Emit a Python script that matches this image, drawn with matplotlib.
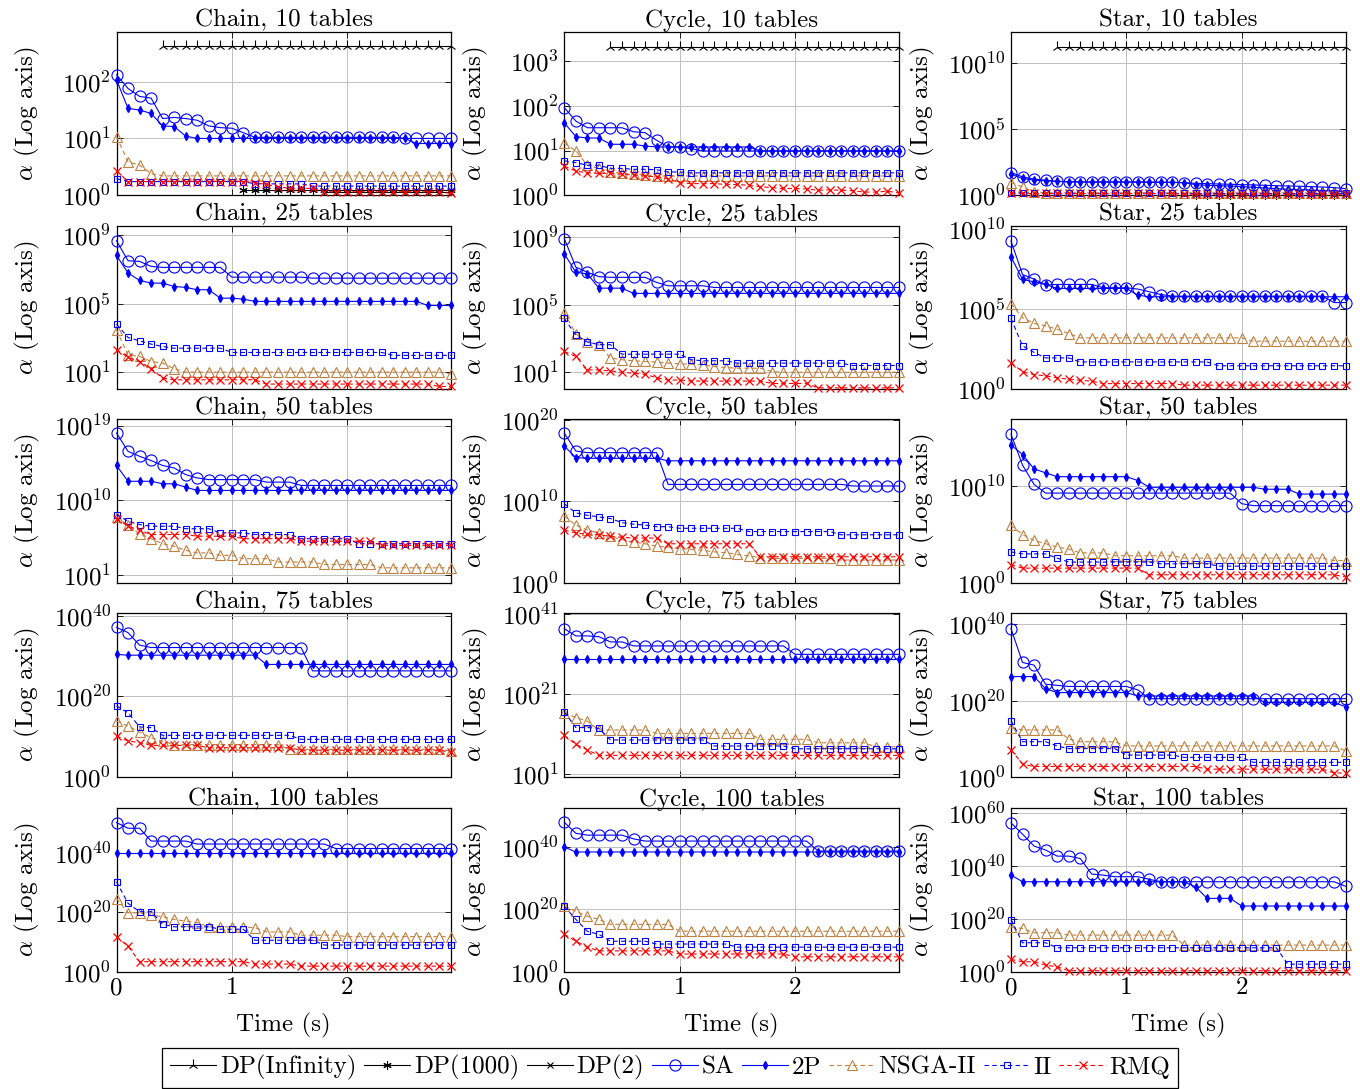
import numpy as np
import matplotlib
matplotlib.use("Agg")
import matplotlib.pyplot as plt
from matplotlib.lines import Line2D

plt.rcParams['font.family'] = 'cmr10'
plt.rcParams['mathtext.fontset'] = 'cm'
plt.rcParams['axes.formatter.use_mathtext'] = True
plt.rcParams['axes.unicode_minus'] = False

nan = np.nan
time = [0.0, 0.1, 0.2, 0.3, 0.4, 0.5, 0.6, 0.7, 0.8, 0.9,
        1.0, 1.1, 1.2, 1.3, 1.4, 1.5, 1.6, 1.7, 1.8, 1.9,
        2.0, 2.1, 2.2, 2.3, 2.4, 2.5, 2.6, 2.7, 2.8, 2.9]

# all values are log10(alpha)
# ---- Chain, 10 tables
chain10_dpinf = [nan]*4 + [2.62]*26
chain10_dp1000 = [nan]*11 + [0.10]*19
chain10_dp2 = [nan]*18 + [0.05]*12
chain10_sa = [2.12, 1.88, 1.74, 1.71, 1.35, 1.37, 1.35, 1.32, 1.22, 1.19, 1.18, 1.10] + [1.02]*13 + [1.0]*5
chain10_2p = [2.03, 1.53, 1.50, 1.44, 1.22, 1.21, 1.04] + [1.0]*19 + [0.91]*4
chain10_nsga = [1.03, 0.59, 0.53, 0.38] + [0.34]*26
chain10_ii = [0.29] + [0.24]*11 + [0.20]*5 + [0.16]*13
chain10_rmq = [0.43] + [0.24]*11 + [0.22, 0.19, 0.15, 0.12, 0.12, 0.12] + [0.06]*11 + [0.03]

# ---- Cycle, 10 tables
cycle10_dpinf = [nan]*4 + [3.32]*26
cycle10_sa = [1.96, 1.66, 1.51, 1.51, 1.51, 1.51, 1.42, 1.40, 1.23, 1.08, 1.08, 1.04] + [0.99]*18
cycle10_2p = [1.62, 1.31, 1.28, 1.28, 1.14, 1.14, 1.14, 1.10] + [1.08]*9 + [0.99]*13
cycle10_nsga = [1.17, 0.99, 0.67, 0.60, 0.52, 0.49, 0.48, 0.46] + [0.43]*22
cycle10_ii = [0.77, 0.73, 0.67, 0.67, 0.60, 0.60, 0.58, 0.58, 0.57, 0.52, 0.52] + [0.50]*19
cycle10_rmq = [0.65, 0.54, 0.50, 0.49, 0.49, 0.47, 0.45, 0.43, 0.41, 0.37,
               0.28, 0.26, 0.26, 0.26, 0.24, 0.24, 0.22, 0.19, 0.17, 0.15,
               0.15, 0.14, 0.11, 0.12, 0.11, 0.10, 0.07, 0.07, 0.09, 0.05]

# ---- Star, 10 tables
star10_dpinf = [nan]*4 + [11.27]*26
star10_dp1000 = [nan]*16 + [0.05]*14
star10_sa = [1.72, 1.39, 1.22, 1.14, 1.05, 1.03, 1.01, 1.0, 1.0, 1.0, 1.0, 1.0,
             0.98, 0.98, 0.97, 0.95, 0.9, 0.88, 0.85, 0.83, 0.8, 0.78, 0.75, 0.72,
             0.7, 0.68, 0.65, 0.62, 0.58, 0.5]
star10_2p = [1.6, 1.27, 1.14, 1.09, 1.05, 1.0, 1.0, 1.0, 1.0, 1.0, 1.0, 1.0, 1.0,
             0.98, 0.98, 0.95, 0.8, 0.75, 0.72, 0.7, 0.65, 0.6, 0.55, 0.5, 0.45,
             0.42, 0.4, 0.35, 0.32, 0.28]
star10_nsga = [0.96, 0.63, 0.25] + [0.18]*27
star10_ii = [0.18] + [0.13]*29
star10_rmq = [0.13]*15 + [0.08]*15

# ---- Chain, 25 tables
chain25_sa = [8.69, 7.52, 7.48, 7.19] + [7.13]*6 + [6.56]*7 + [6.50]*13
chain25_2p = [7.83, 6.80, 6.37, 6.21, 6.21, 6.01, 5.96, 5.82, 5.82, 5.33, 5.33, 5.27] + [5.14]*15 + [4.90]*3
chain25_nsga = [3.48, 2.01, 1.92, 1.62, 1.53, 1.20] + [1.0]*23 + [0.9]
chain25_ii = [3.81, 3.03, 2.83, 2.64, 2.50] + [2.40]*5 + [2.15]*14 + [1.98]*6
chain25_rmq = [2.31, 1.86, 1.62, 1.20, 0.65] + [0.55]*8 + [0.30]*15 + [0.16]*2

# ---- Cycle, 25 tables
cycle25_sa = [8.9, 7.21, 6.91, 6.65, 6.61, 6.61, 6.61, 6.61, 6.31, 6.11, 6.11, 6.11, 6.11] + [6.01]*17
cycle25_2p = [8.0, 6.91, 6.81, 5.97, 5.97, 5.97] + [5.66]*24
cycle25_nsga = [4.52, 3.27, 2.79, 2.63, 1.84, 1.74, 1.68, 1.64, 1.60, 1.54, 1.50, 1.48,
                1.44, 1.34, 1.28, 1.24, 1.24, 1.24, 1.04] + [1.0]*11
cycle25_ii = [4.18, 3.19, 2.79, 2.63, 2.63] + [2.07]*6 + [1.74] + [1.68]*3 + [1.54]*10 + [1.40]*5
cycle25_rmq = [2.23, 1.94, 1.14, 1.14, 1.08, 1.0, 0.94, 0.88, 0.68, 0.54, 0.54] + [0.48]*7 + [0.34]*4 + [0.08]*8

# ---- Star, 25 tables
star25_sa = [9.23, 7.15, 6.86, 6.49, 6.53, 6.53, 6.53, 6.53, 6.32, 6.32, 6.32, 6.24, 6.07, 5.9] + [5.8]*14 + [5.4]*2
star25_2p = [8.25, 6.84, 6.69, 6.53] + [6.28]*7 + [5.86] + [5.76]*18
star25_nsga = [5.34, 4.47, 4.10, 3.95, 3.74, 3.47] + [3.2]*15 + [2.99]*9
star25_ii = [4.41, 2.70, 2.29, 1.95, 1.95, 1.95] + [1.70]*12 + [1.46]*12
star25_rmq = [1.66, 1.08, 0.91, 0.83, 0.71, 0.62, 0.56, 0.5] + [0.35]*7 + [0.25]*15

# ---- Chain, 50 tables
chain50_sa = [18.1, 15.9, 15.3, 14.8, 14.2, 13.9, 13.1, 12.7] + [12.5]*5 + [12.2]*3 + [11.8]*14
chain50_2p = [14.2, 12.3, 12.3, 12.3, 12.0, 12.0, 11.6] + [11.2]*23
chain50_nsga = [8.0, 7.0, 6.0, 5.4, 4.8, 4.5, 4.0, 3.7, 3.7, 3.4, 3.4, 3.0, 3.0, 3.0,
                2.6, 2.6, 2.6, 2.6, 2.3, 2.3, 2.3, 2.3, 2.3] + [1.9]*7
chain50_ii = [8.3, 7.5, 7.1, 6.9, 6.9, 6.9, 6.6, 6.6, 6.6, 6.1, 6.1, 6.1, 5.9, 5.9, 5.9,
              5.9, 5.4, 5.4, 5.4, 5.4, 5.4] + [4.8]*9
chain50_rmq = [7.8, 6.9, 6.4, 5.9, 5.9, 5.9, 5.9, 5.7, 5.7, 5.7, 5.7, 5.4, 5.4, 5.4, 5.4,
               5.4, 5.1, 5.1, 5.1, 5.1, 5.1, 5.1, 5.1] + [4.6]*7

# ---- Cycle, 50 tables
cycle50_sa = [18.4, 16.2] + [16.0]*7 + [12.1]*16 + [11.9]*5
cycle50_2p = [16.8, 15.4] + [15.3]*7 + [15.0]*21
cycle50_nsga = [8.2, 7.1, 6.5, 6.1, 5.7, 5.3, 5.0, 4.8, 4.5, 4.4, 4.2, 4.1, 4.0, 3.8, 3.7,
                3.5, 3.3, 3.1] + [3.0]*6 + [2.8]*6
cycle50_ii = [9.7, 8.6, 8.3, 8.1, 7.9, 7.4, 7.2, 7.1, 6.9, 6.9] + [6.7]*6 + [6.3]*8 + [5.9]*6
cycle50_rmq = [6.5, 6.1, 6.0, 5.9, 5.7, 5.6, 5.5, 5.5, 5.5] + [4.8]*8 + [3.2]*13

# ---- Star, 50 tables
star50_sa = [15.4, 12.2, 10.2, 9.3] + [9.3]*16 + [8.2] + [8.0]*9
star50_2p = [14.3, 13.3, 11.8, 11.4] + [11.0]*7 + [10.6] + [9.9]*10 + [9.7]*3 + [9.2]*5
star50_nsga = [5.95, 5.0, 4.4, 4.05, 3.7, 3.5, 3.1, 3.1, 3.1] + [2.8]*6 + [2.56]*13 + [2.3]*2
star50_ii = [3.2, 3.0, 3.0, 3.0, 2.56] + [2.15]*8 + [1.97]*5 + [1.73]*12
star50_rmq = [1.87] + [1.52]*11 + [0.83]*17 + [0.6]

# ---- Chain, 75 tables
chain75_sa = [37.1, 35.8, 32.7] + [32.1]*14 + [26.3]*13
chain75_2p = [30.4] + [30.2]*12 + [27.9]*17
chain75_nsga = [13.8, 12.6, 11.1, 9.7, 8.8] + [8.0]*10 + [6.8]*14 + [6.4]
chain75_ii = [17.6, 15.9, 12.4, 12.2] + [10.3]*12 + [9.3]*14
chain75_rmq = [10.1, 8.9, 8.5] + [7.8]*5 + [7.2]*8 + [6.6]*13 + [6.1]

# ---- Cycle, 75 tables
cycle75_sa = [37.4, 35.6, 35.6, 35.4, 34.1, 34.1] + [33.1]*14 + [31.0]*10
cycle75_2p = [29.75]*30
cycle75_nsga = [16.4, 15.2, 14.3] + [12.1]*5 + [11.25]*9 + [9.75]*5 + [8.9]*5 + [7.9]*3
cycle75_ii = [16.6, 12.7, 12.7, 12.5] + [9.6]*9 + [8.1]*7 + [7.4]*10
cycle75_rmq = [10.75, 8.5, 7.1] + [5.75]*27

# ---- Star, 75 tables
star75_sa = [38.9, 30.0, 29.3, 24.3, 24.0] + [23.7]*6 + [22.8] + [20.5]*18
star75_2p = [26.3]*3 + [23.1] + [22.1]*7 + [21.2]*11 + [19.5]*7 + [18.4]
star75_nsga = [12.9] + [12.3]*4 + [9.9] + [9.2]*4 + [8.1]*19 + [6.8]
star75_ii = [14.7] + [9.2]*3 + [8.1] + [7.4]*5 + [5.7]*5 + [5.1]*6 + [3.8]*9
star75_rmq = [7.1, 3.3] + [2.7]*15 + [2.0]*11 + [1.0]*2

# ---- Chain, 100 tables
chain100_sa = [50.1, 48.2, 48.2] + [43.9]*4 + [42.9]*12 + [41.4]*11
chain100_2p = [40.0]*30
chain100_nsga = [24.6, 19.8, 19.8, 19.0, 18.5, 17.6, 17.0, 16.5] + [15.1]*4 + [14.8] + [13.4]*3 + [12.3]*4 + [11.8]*10
chain100_ii = [30.2, 23.0, 20.2, 20.2, 16.0] + [15.1]*4 + [14.3]*3 + [10.6]*6 + [9.0]*12
chain100_rmq = [11.8, 8.6] + [3.4]*10 + [2.6]*4 + [1.9]*14

# ---- Cycle, 100 tables
cycle100_sa = [47.9, 44.4] + [43.8]*4 + [42.6] + [41.9]*15 + [38.7]*8
cycle100_2p = [40.0] + [38.4]*29
cycle100_nsga = [21.0, 19.4, 17.8, 16.8] + [15.2]*6 + [13.0]*20
cycle100_ii = [21.0, 16.8, 13.0, 12.0] + [9.8]*4 + [8.9]*7 + [7.9]*15
cycle100_rmq = [12.0, 9.8, 7.9] + [6.7]*7 + [5.7]*10 + [4.8]*10

# ---- Star, 100 tables
star100_sa = [56.4, 52.1, 47.6, 46.1, 43.8, 43.8, 42.9, 37.0, 36.6, 36.0, 36.0, 36.0, 35.0] + [34.1]*16 + [32.4]
star100_2p = [36.6] + [34.1]*15 + [32.2] + [27.8]*3 + [24.9]*10
star100_nsga = [17.0, 16.4] + [14.8]*3 + [13.9]*10 + [10.1]*15
star100_ii = [19.8] + [11.0]*3 + [9.1]*20 + [2.9]*6
star100_rmq = [4.7, 3.8, 3.8, 2.5, 1.9] + [0.4]*25

titles = ["Chain, 10 tables", "Cycle, 10 tables", "Star, 10 tables",
          "Chain, 25 tables", "Cycle, 25 tables", "Star, 25 tables",
          "Chain, 50 tables", "Cycle, 50 tables", "Star, 50 tables",
          "Chain, 75 tables", "Cycle, 75 tables", "Star, 75 tables",
          "Chain, 100 tables", "Cycle, 100 tables", "Star, 100 tables"]
ytick_exp = [[0, 1, 2], [0, 1, 2, 3], [0, 5, 10],
             [1, 5, 9], [1, 5, 9], [0, 5, 10],
             [1, 10, 19], [0, 10, 20], [0, 10],
             [0, 20, 40], [1, 21, 41], [0, 20, 40],
             [0, 20, 40], [0, 20, 40], [0, 20, 40, 60]]
ylim_exp = [(0, 2.88), (0, 3.66), (0, 12.4),
            (0, 9.57), (0, 9.66), (0, 10.19),
            (0.1, 19.75), (0, 20.1), (0, 16.95),
            (0, 40.6), (0.4, 41.25), (0, 42.9),
            (0, 54.9), (0, 52.4), (0, 61.9)]

panels = [
    dict(dpinf=chain10_dpinf, dp1000=chain10_dp1000, dp2=chain10_dp2, sa=chain10_sa,
         p2=chain10_2p, nsga=chain10_nsga, ii=chain10_ii, rmq=chain10_rmq),
    dict(dpinf=cycle10_dpinf, sa=cycle10_sa, p2=cycle10_2p, nsga=cycle10_nsga,
         ii=cycle10_ii, rmq=cycle10_rmq),
    dict(dpinf=star10_dpinf, dp1000=star10_dp1000, sa=star10_sa, p2=star10_2p,
         nsga=star10_nsga, ii=star10_ii, rmq=star10_rmq),
    dict(sa=chain25_sa, p2=chain25_2p, nsga=chain25_nsga, ii=chain25_ii, rmq=chain25_rmq),
    dict(sa=cycle25_sa, p2=cycle25_2p, nsga=cycle25_nsga, ii=cycle25_ii, rmq=cycle25_rmq),
    dict(sa=star25_sa, p2=star25_2p, nsga=star25_nsga, ii=star25_ii, rmq=star25_rmq),
    dict(sa=chain50_sa, p2=chain50_2p, nsga=chain50_nsga, ii=chain50_ii, rmq=chain50_rmq),
    dict(sa=cycle50_sa, p2=cycle50_2p, nsga=cycle50_nsga, ii=cycle50_ii, rmq=cycle50_rmq),
    dict(sa=star50_sa, p2=star50_2p, nsga=star50_nsga, ii=star50_ii, rmq=star50_rmq),
    dict(sa=chain75_sa, p2=chain75_2p, nsga=chain75_nsga, ii=chain75_ii, rmq=chain75_rmq),
    dict(sa=cycle75_sa, p2=cycle75_2p, nsga=cycle75_nsga, ii=cycle75_ii, rmq=cycle75_rmq),
    dict(sa=star75_sa, p2=star75_2p, nsga=star75_nsga, ii=star75_ii, rmq=star75_rmq),
    dict(sa=chain100_sa, p2=chain100_2p, nsga=chain100_nsga, ii=chain100_ii, rmq=chain100_rmq),
    dict(sa=cycle100_sa, p2=cycle100_2p, nsga=cycle100_nsga, ii=cycle100_ii, rmq=cycle100_rmq),
    dict(sa=star100_sa, p2=star100_2p, nsga=star100_nsga, ii=star100_ii, rmq=star100_rmq),
]

brown = (0.75, 0.5, 0.25)
dash = (0, (4, 3))
styles = {
    'dpinf': dict(color='k', marker='2', ms=8, lw=0.8, ls='-', mew=0.8),
    'dp1000': dict(color='k', marker=(6, 2, 0), ms=6, lw=0.8, ls='-', mew=0.8),
    'dp2': dict(color='k', marker='x', ms=5, lw=0.8, ls='-', mew=0.8),
    'sa': dict(color='blue', marker='o', mfc='none', ms=8, lw=0.8, ls='-', mew=0.8),
    'p2': dict(color='blue', marker='d', ms=4, lw=0.8, ls='-'),
    'nsga': dict(color=brown, marker='^', mfc='none', ms=7, lw=0.8, ls=dash, mew=0.8),
    'ii': dict(color='blue', marker='s', mfc='none', ms=4, lw=0.8, ls=dash, mew=0.8),
    'rmq': dict(color='red', marker='x', ms=6, lw=0.8, ls=dash, mew=0.9),
}
labels = {'dpinf': 'DP(Infinity)', 'dp1000': 'DP(1000)', 'dp2': 'DP(2)', 'sa': 'SA',
          'p2': '2P', 'nsga': 'NSGA-II', 'ii': 'II', 'rmq': 'RMQ'}
order = ['dpinf', 'dp1000', 'dp2', 'sa', 'p2', 'nsga', 'ii', 'rmq']

W, H = 1360, 1089
fig = plt.figure(figsize=(W / 100, H / 100), dpi=100)
lefts = [116.5, 564.3, 1011.0]
tops = [31.7, 225.7, 419.3, 613.3, 808.3]
aw, ah = 334.5, 163.5
FS = 18

t = np.array(time)
for i, pan in enumerate(panels):
    r, c = divmod(i, 3)
    ax = fig.add_axes([lefts[c] / W, 1 - (tops[r] + ah) / H, aw / W, ah / H])
    ax.set_yscale('log')
    for key in order:
        if key in pan:
            y = 10.0 ** np.array(pan[key], dtype=float)
            ax.plot(t, y, clip_on=False, zorder=3, **styles[key])
    lo, hi = ylim_exp[i]
    ax.set_ylim(10.0 ** lo, 10.0 ** hi)
    ax.set_xlim(0, 2.9)
    ax.set_yticks([10.0 ** k for k in ytick_exp[i]])
    ax.set_yticklabels(['$100^{%d}$' % k for k in ytick_exp[i]])
    ax.minorticks_off()
    ax.set_xticks([0, 1, 2])
    if r == 4:
        ax.set_xticklabels(['0', '1', '2'])
        ax.set_xlabel('Time (s)', fontsize=FS, labelpad=10)
    else:
        ax.set_xticklabels([])
    ax.grid(True, color='#c0c0c0', lw=0.7)
    ax.set_axisbelow(True)
    ax.tick_params(direction='in', length=4, width=0.6, top=True, right=True,
                   labelsize=FS, pad=4)
    ax.set_title(titles[i], fontsize=FS, pad=2)
    ax.set_ylabel(r'$\alpha$ (Log axis)', fontsize=FS)
    ax.yaxis.set_label_coords(-74 / aw, 0.5)
    for sp in ax.spines.values():
        sp.set_linewidth(0.9)

handles = [Line2D([], [], **styles[k]) for k in order]
leg = fig.legend(handles, [labels[k] for k in order], loc='lower center',
                 bbox_to_anchor=(670 / W, 0.001), ncol=8, fontsize=FS,
                 frameon=True, fancybox=False, edgecolor='k', framealpha=1,
                 handlelength=1.85, handletextpad=0.15, columnspacing=0.3,
                 borderpad=0.3, borderaxespad=0.0)
leg.get_frame().set_linewidth(0.9)

fig.savefig('out.png', dpi=100)
